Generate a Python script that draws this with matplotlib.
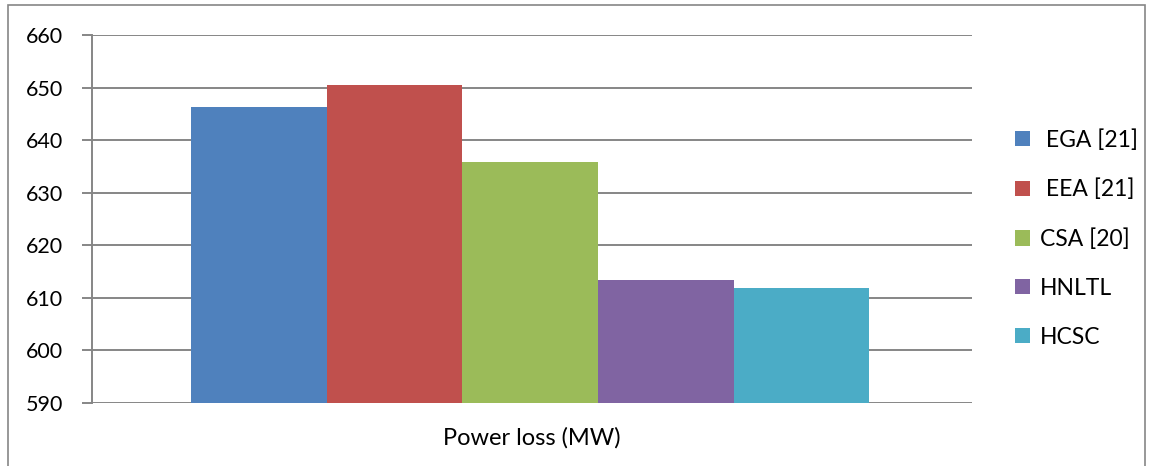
import matplotlib.pyplot as plt
from matplotlib.patches import Rectangle
import numpy as np

plt.rcParams['font.family'] = ['Lato', 'DejaVu Sans']

methods = [' EGA [21]', ' EEA [21]', 'CSA [20]', 'HNLTL', 'HCSC']
power_loss = [646.3, 650.5, 635.9, 613.4, 611.9]
colors = ['#4F81BD', '#C0504D', '#9BBB59', '#8064A2', '#4BACC6']
yticks = [590, 600, 610, 620, 630, 640, 650, 660]

fig = plt.figure(figsize=(11.51, 4.66), dpi=100)
ax = fig.add_axes([92 / 1151, 1 - 403 / 466, 880 / 1151, 368 / 466])

# one category, five bars side by side
width = 0.154
offsets = (np.arange(len(methods)) - 2) * width - 0.002
for off, val, c, lab in zip(offsets, power_loss, colors, methods):
    ax.bar(off, val - 590, bottom=590, width=width, color=c, label=lab, zorder=3)

ax.set_xlim(-0.5, 0.5)
ax.set_ylim(590, 660)
ax.set_yticks(yticks)
ax.set_xticks([])
ax.grid(axis='y', color='#868686', linewidth=1.4, zorder=0)
for s in ['top', 'right', 'bottom']:
    ax.spines[s].set_visible(False)
ax.spines['left'].set_color('#868686')
ax.spines['left'].set_linewidth(1.4)
ax.tick_params(axis='y', length=7, width=1.4, color='#868686', labelsize=15.5, pad=14)

ax.set_xlabel('Power loss (MW)', fontsize=17, labelpad=17)

ax.legend(loc='center left', bbox_to_anchor=(1.025, 0.447), frameon=False,
          fontsize=16.5, handlelength=0.65, handleheight=0.65, handletextpad=0.45,
          labelspacing=1.22)

# outer chart border
fig.patches.append(Rectangle((8 / 1151, -0.01), 1137 / 1151, 1 - 5 / 466 + 0.01,
                             transform=fig.transFigure, fill=False,
                             edgecolor='#868686', linewidth=1.2))

fig.savefig('out.png', dpi=100)
